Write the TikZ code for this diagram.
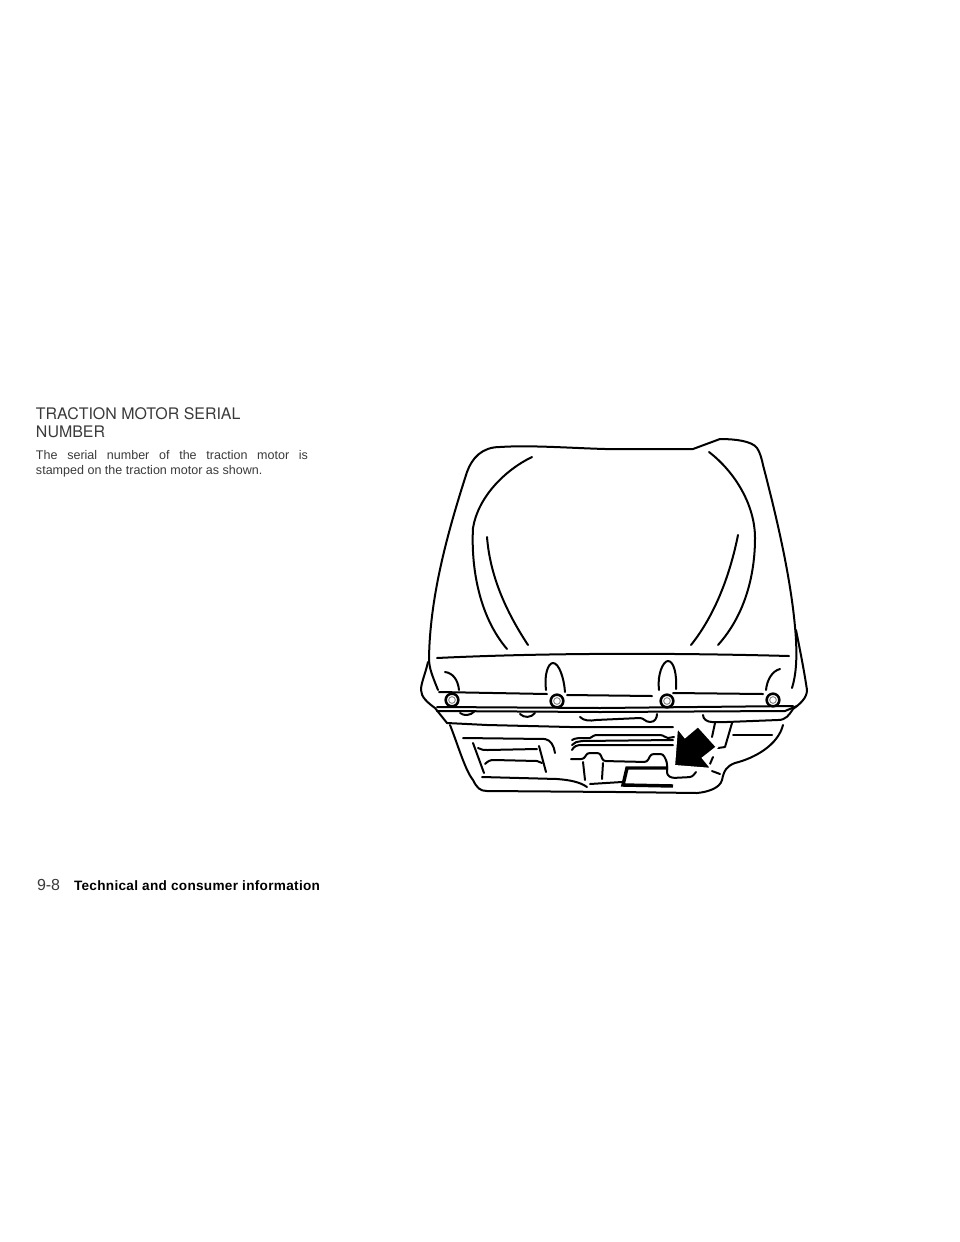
\documentclass[tikz,border=0pt]{standalone}
\usepackage{fontspec}
\setmainfont{Liberation Sans}
\newfontfamily\headfont{TeX Gyre Heros}
\newfontfamily\footfont[LetterSpace=2.2,BoldFont={Liberation Sans Bold}]{Liberation Sans}
\definecolor{inkgrey}{HTML}{3A3A3A}
\tikzset{
  pen/.style={draw=black,line width=1.5pt,line cap=round,line join=round},
  txt/.style={anchor=base west,inner sep=0pt,outer sep=0pt,text=inkgrey},
  bolt/.style={draw=black,fill=white,line width=1.9pt,circle,minimum size=9.5pt,inner sep=0pt},
  boltin/.style={draw=black!55,line width=.6pt,circle,minimum size=5pt,inner sep=0pt}
}
\begin{document}
\begin{tikzpicture}[x=0.75pt,y=-0.75pt]
\useasboundingbox (0,0) rectangle (960,1242);
% text
\node[txt,font=\headfont\fontsize{11.95pt}{14pt}\selectfont] (h1) at (36,419) {TRACTION MOTOR SERIAL};
\node[txt,font=\headfont\fontsize{11.95pt}{14pt}\selectfont] (h2) at (36,437) {NUMBER};
\node[txt,font=\fontsize{9.4pt}{11pt}\selectfont] (b1) at (36,459) {\makebox[204pt][s]{The serial number of the traction motor is}};
\node[txt,font=\fontsize{9.4pt}{11pt}\selectfont] (b2) at (36,474) {stamped on the traction motor as shown.};
\node[txt,font=\fontsize{12pt}{14pt}\selectfont] (pg) at (37,890) {9-8};
\node[txt,font=\footfont\fontsize{10.2pt}{12pt}\selectfont\bfseries,text=black] (ft) at (74,890) {Technical and consumer information};
% housing outline
\draw[pen] (438,690) .. controls (432,675) and (429,668) .. (429,658)
  .. controls (430,600) and (445,540) .. (467,472)
  .. controls (472,458) and (482,447) .. (500,447)
  .. controls (530,445) and (570,448) .. (605,449)
  -- (693,449) -- (720,439)
  .. controls (735,439) and (752,441) .. (757,448)
  .. controls (760,452) and (762,460) .. (763,465)
  .. controls (780,530) and (793,590) .. (796,640)
  .. controls (797,660) and (796,675) .. (792,688);
\draw[pen] (532,457) .. controls (505,470) and (478,497) .. (473,528) .. controls (471,565) and (478,615) .. (507,649);
\draw[pen] (487,537) .. controls (490,575) and (505,610) .. (528,645);
\draw[pen] (709,452) .. controls (735,472) and (755,505) .. (755,538) .. controls (755,575) and (745,615) .. (718,645);
\draw[pen] (738,535) .. controls (730,575) and (715,615) .. (691,645);
\draw[pen] (437,658) .. controls (520,654) and (640,652) .. (789,656);
% ears and flange
\draw[pen] (428,662) .. controls (425,675) and (421,683) .. (421,690) .. controls (421,697) and (428,703) .. (435,708) -- (447,723) -- (487,725) -- (570,727) -- (673,727);
\draw[pen] (796,630) .. controls (800,650) and (804,670) .. (807,690) .. controls (807,698) and (800,704) .. (793,709) .. controls (789,715) and (786,720) .. (778,720) -- (727,722) -- (712,722) .. controls (707,722) and (703,719) .. (703,715);
\draw[pen] (437,707) -- (600,708) -- (793,706);
\draw[pen] (437,711) -- (600,712) -- (785,711) -- (797,706);
\draw[pen] (439,692) -- (547,694);
\draw[pen] (567,695) -- (652,696);
\draw[pen] (673,693) -- (763,694);
\draw[pen] (546,690) .. controls (544,675) and (548,663) .. (553,663) .. controls (559,663) and (564,678) .. (565,692);
\draw[pen] (659,690) .. controls (657,675) and (663,661) .. (668,661) .. controls (674,661) and (677,675) .. (676,689);
\draw[pen] (445,672) .. controls (453,673) and (458,680) .. (459,690);
\draw[pen] (780,669) .. controls (772,671) and (767,680) .. (766,690);
\foreach \n/\x/\y in {a/452/700,b/557/701,c/667/701,d/773/700}{
  \node[bolt] (bolt\n) at (\x,\y) {};
  \node[boltin] (bolt\n i) at (\x,\y) {};
}
% squiggles under flange
\draw[pen] (460,713) .. controls (464,716) and (470,716) .. (475,711);
\draw[pen] (520,714) .. controls (524,718) and (531,718) .. (535,713);
\draw[pen] (580,717) .. controls (584,721) and (590,721) .. (596,720) -- (640,718) .. controls (644,718) and (645,722) .. (650,722) .. controls (655,722) and (657,718) .. (657,714);
% lower body
\draw[pen] (450,725) .. controls (458,745) and (465,770) .. (473,780) .. controls (477,788) and (480,791) .. (487,791) -- (617,792) -- (697,793) .. controls (708,792) and (720,788) .. (722,780) .. controls (724,770) and (727,766) .. (735,763) .. controls (755,758) and (778,745) .. (783,725);
\draw[pen] (463,738) -- (545,739) .. controls (551,740) and (554,746) .. (555,753);
\draw[pen] (473,743) -- (484,773);
\draw[pen] (478,748) .. controls (481,750) and (484,750) .. (488,750) -- (537,749);
\draw[pen] (485,764) .. controls (488,761) and (490,760) .. (494,760) -- (537,761) -- (542,763);
\draw[pen] (539,746) -- (546,772);
\draw[pen] (482,777) -- (557,779) .. controls (570,780) and (580,782) .. (587,787);
% middle pipes
\draw[pen] (572,740) .. controls (575,738) and (578,738) .. (590,738) .. controls (593,737) and (593,735) .. (597,735) -- (660,735) .. controls (664,735) and (665,738) .. (668,738) -- (674,737);
\draw[pen] (572,745) .. controls (574,742) and (577,742) .. (582,741) -- (673,740);
\draw[pen] (572,750) .. controls (574,746) and (577,745) .. (582,745) -- (673,745);
\draw[pen,rounded corners=2pt] (571,759) -- (584,759) -- (587,753) -- (600,753) -- (603,761) -- (647,762) -- (651,754) -- (663,754) -- (667,762) -- (667,775) -- (672,778) -- (692,777) -- (696,772);
\draw[pen] (583,762) -- (585,780);
\draw[pen] (603,763) -- (602,779);
\draw[pen] (590,784) -- (622,782);
\draw[line width=2.6pt,draw=black,line join=miter] (668,768) -- (627,768) -- (623,785) -- (673,786);
% right-hand details
\draw[pen] (715,723) -- (712,737);
\draw[pen] (732,723) -- (725,747) -- (718,748);
\draw[pen] (713,757) -- (710,764);
\draw[pen] (712,771) -- (720,774);
\draw[pen] (733,735) -- (772,735);
% arrow
\path[fill=black,draw=white,line width=1.6pt,line join=miter] (674,766) -- (677,727) -- (685,737) -- (698,726) -- (717,747) -- (703,758) -- (712,769) -- cycle;
\end{tikzpicture}
\end{document}
